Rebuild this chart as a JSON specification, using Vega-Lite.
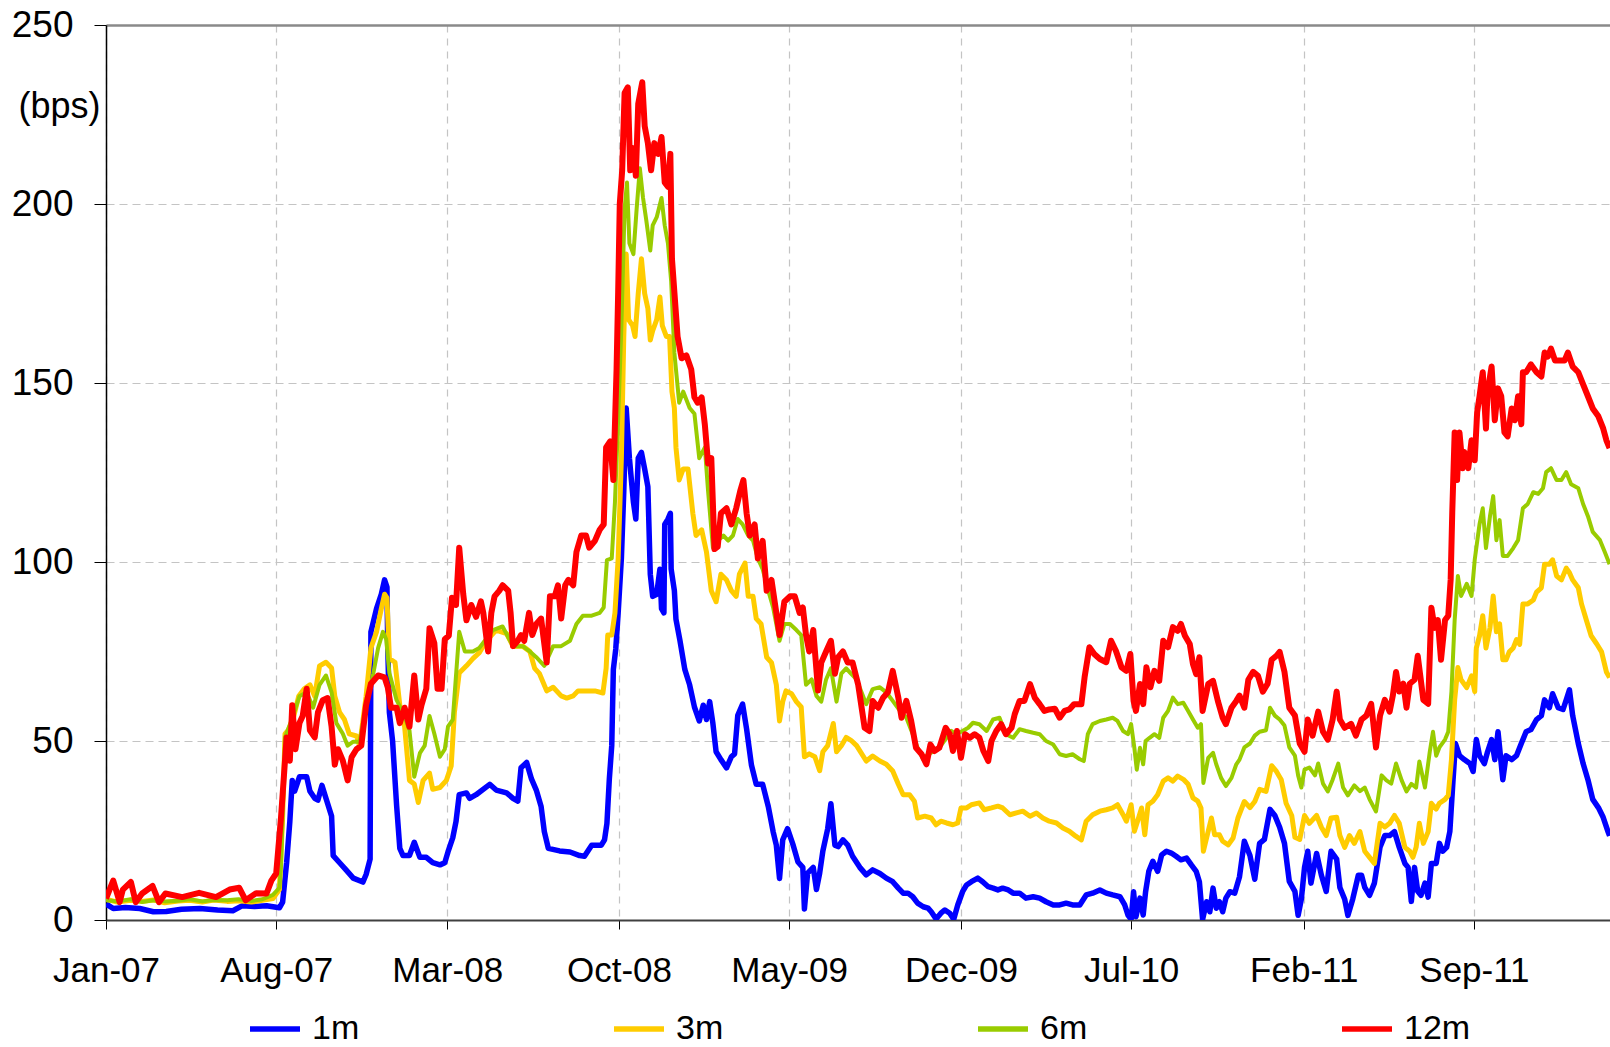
{
"$schema": "https://vega.github.io/schema/vega-lite/v6.json",
"width": 1504,
"height": 895,
"autosize": {"type": "none"},
"padding": {"left": 106, "top": 25, "right": 0, "bottom": 127},
"background": "white",
"config": {"font": "Liberation Sans", "view": {"stroke": null}},
"datasets": {
"m1": [
{"date":"2007-01-01","bps":4.5},{"date":"2007-01-10","bps":3.2},{"date":"2007-01-25","bps":3.5},{"date":"2007-02-12","bps":3.2},{"date":"2007-03-01","bps":2.3},{"date":"2007-03-17","bps":2.4},{"date":"2007-04-05","bps":3.0},{"date":"2007-04-28","bps":3.2},{"date":"2007-05-20","bps":2.8},{"date":"2007-06-08","bps":2.6},{"date":"2007-06-20","bps":4.0},{"date":"2007-07-05","bps":3.8},{"date":"2007-07-20","bps":4.0},{"date":"2007-07-28","bps":3.7},{"date":"2007-08-05","bps":3.4},{"date":"2007-08-09","bps":5},{"date":"2007-08-14","bps":16},{"date":"2007-08-18","bps":27.5},{"date":"2007-08-21","bps":39},{"date":"2007-08-24","bps":36},{"date":"2007-08-30","bps":40},{"date":"2007-09-08","bps":40},{"date":"2007-09-12","bps":36},{"date":"2007-09-18","bps":34},{"date":"2007-09-22","bps":33.5},{"date":"2007-09-27","bps":37.6},{"date":"2007-10-02","bps":34},{"date":"2007-10-09","bps":29},{"date":"2007-10-11","bps":18},{"date":"2007-10-19","bps":16},{"date":"2007-10-27","bps":14},{"date":"2007-11-05","bps":11.7},{"date":"2007-11-17","bps":10.6},{"date":"2007-11-21","bps":12.7},{"date":"2007-11-26","bps":17},{"date":"2007-11-27","bps":80.5},{"date":"2007-12-04","bps":87},{"date":"2007-12-10","bps":91},{"date":"2007-12-14","bps":95},{"date":"2007-12-17","bps":93},{"date":"2007-12-18","bps":76},{"date":"2007-12-20","bps":58},{"date":"2007-12-24","bps":50},{"date":"2007-12-29","bps":32},{"date":"2008-01-02","bps":20},{"date":"2008-01-06","bps":18},{"date":"2008-01-14","bps":18},{"date":"2008-01-20","bps":21.7},{"date":"2008-01-27","bps":17.5},{"date":"2008-02-04","bps":17.5},{"date":"2008-02-12","bps":16},{"date":"2008-02-21","bps":15.4},{"date":"2008-02-27","bps":16},{"date":"2008-03-02","bps":19},{"date":"2008-03-08","bps":23},{"date":"2008-03-12","bps":27.5},{"date":"2008-03-16","bps":35},{"date":"2008-03-25","bps":35.5},{"date":"2008-03-29","bps":34},{"date":"2008-04-06","bps":35},{"date":"2008-04-23","bps":37.9},{"date":"2008-05-01","bps":36.3},{"date":"2008-05-14","bps":35.5},{"date":"2008-05-22","bps":34},{"date":"2008-05-28","bps":33.2},{"date":"2008-06-01","bps":42.5},{"date":"2008-06-08","bps":44},{"date":"2008-06-14","bps":39.4},{"date":"2008-06-20","bps":36.3},{"date":"2008-06-26","bps":31.7},{"date":"2008-06-30","bps":24.7},{"date":"2008-07-05","bps":20},{"date":"2008-07-19","bps":19.3},{"date":"2008-08-01","bps":19},{"date":"2008-08-13","bps":18},{"date":"2008-08-19","bps":17.8},{"date":"2008-08-28","bps":20.9},{"date":"2008-09-09","bps":20.9},{"date":"2008-09-13","bps":22.4},{"date":"2008-09-16","bps":27},{"date":"2008-09-19","bps":39.4},{"date":"2008-09-22","bps":48.7},{"date":"2008-09-24","bps":70},{"date":"2008-09-27","bps":75.7},{"date":"2008-09-30","bps":85.8},{"date":"2008-10-04","bps":101},{"date":"2008-10-07","bps":119.8},{"date":"2008-10-10","bps":143},{"date":"2008-10-14","bps":129},{"date":"2008-10-19","bps":116.7},{"date":"2008-10-22","bps":112},{"date":"2008-10-25","bps":129},{"date":"2008-10-29","bps":130.6},{"date":"2008-11-02","bps":126},{"date":"2008-11-06","bps":121},{"date":"2008-11-09","bps":96.6},{"date":"2008-11-12","bps":90.4},{"date":"2008-11-17","bps":91},{"date":"2008-11-21","bps":98},{"date":"2008-11-23","bps":87},{"date":"2008-11-26","bps":85.8},{"date":"2008-11-27","bps":110.5},{"date":"2008-12-01","bps":112},{"date":"2008-12-04","bps":113.6},{"date":"2008-12-05","bps":98},{"date":"2008-12-09","bps":92},{"date":"2008-12-11","bps":84},{"date":"2008-12-16","bps":78},{"date":"2008-12-22","bps":70},{"date":"2008-12-28","bps":65.7},{"date":"2009-01-03","bps":59.5},{"date":"2009-01-09","bps":55.6},{"date":"2009-01-14","bps":60},{"date":"2009-01-18","bps":56},{"date":"2009-01-22","bps":61},{"date":"2009-01-26","bps":54.9},{"date":"2009-01-30","bps":47},{"date":"2009-02-05","bps":44.8},{"date":"2009-02-12","bps":42.5},{"date":"2009-02-18","bps":45.6},{"date":"2009-02-22","bps":46.4},{"date":"2009-02-26","bps":57.2},{"date":"2009-03-04","bps":60.3},{"date":"2009-03-09","bps":53.3},{"date":"2009-03-15","bps":43.3},{"date":"2009-03-21","bps":37.9},{"date":"2009-03-29","bps":37.9},{"date":"2009-04-05","bps":31.7},{"date":"2009-04-11","bps":24.7},{"date":"2009-04-15","bps":20.9},{"date":"2009-04-19","bps":11.6},{"date":"2009-04-23","bps":22.4},{"date":"2009-04-29","bps":25.5},{"date":"2009-05-06","bps":20.9},{"date":"2009-05-12","bps":16.2},{"date":"2009-05-18","bps":14.7},{"date":"2009-05-20","bps":3.1},{"date":"2009-05-24","bps":13.1},{"date":"2009-05-31","bps":14.7},{"date":"2009-06-04","bps":8.5},{"date":"2009-06-08","bps":13.1},{"date":"2009-06-12","bps":19.3},{"date":"2009-06-18","bps":25.5},{"date":"2009-06-22","bps":32.5},{"date":"2009-06-27","bps":20.9},{"date":"2009-07-01","bps":20.5},{"date":"2009-07-07","bps":22.4},{"date":"2009-07-13","bps":20.9},{"date":"2009-07-19","bps":17.8},{"date":"2009-07-28","bps":14.7},{"date":"2009-08-05","bps":12.6},{"date":"2009-08-13","bps":14},{"date":"2009-08-22","bps":13},{"date":"2009-08-30","bps":11.7},{"date":"2009-09-07","bps":10.7},{"date":"2009-09-14","bps":8.9},{"date":"2009-09-20","bps":7.5},{"date":"2009-09-26","bps":7.5},{"date":"2009-10-02","bps":6.5},{"date":"2009-10-08","bps":4.7},{"date":"2009-10-15","bps":3.7},{"date":"2009-10-21","bps":3.3},{"date":"2009-10-25","bps":2.3},{"date":"2009-10-31","bps":0.3},{"date":"2009-11-06","bps":1.9},{"date":"2009-11-11","bps":2.8},{"date":"2009-11-17","bps":1.9},{"date":"2009-11-22","bps":0.2},{"date":"2009-11-27","bps":4.2},{"date":"2009-12-03","bps":7.9},{"date":"2009-12-08","bps":9.8},{"date":"2009-12-14","bps":10.7},{"date":"2009-12-22","bps":11.7},{"date":"2009-12-28","bps":10.7},{"date":"2010-01-04","bps":9.3},{"date":"2010-01-10","bps":8.9},{"date":"2010-01-16","bps":8.4},{"date":"2010-01-22","bps":8.9},{"date":"2010-01-29","bps":8.4},{"date":"2010-02-04","bps":7.5},{"date":"2010-02-12","bps":7.5},{"date":"2010-02-20","bps":6.1},{"date":"2010-03-01","bps":6.5},{"date":"2010-03-09","bps":6.1},{"date":"2010-03-17","bps":5.1},{"date":"2010-03-26","bps":4.2},{"date":"2010-04-03","bps":4.2},{"date":"2010-04-11","bps":4.7},{"date":"2010-04-19","bps":4.2},{"date":"2010-04-28","bps":4.2},{"date":"2010-05-06","bps":7},{"date":"2010-05-14","bps":7.5},{"date":"2010-05-23","bps":8.4},{"date":"2010-05-31","bps":7.5},{"date":"2010-06-08","bps":7},{"date":"2010-06-17","bps":6.5},{"date":"2010-06-23","bps":4.2},{"date":"2010-06-27","bps":1.4},{"date":"2010-07-01","bps":0.2},{"date":"2010-07-04","bps":7.9},{"date":"2010-07-07","bps":0.9},{"date":"2010-07-12","bps":6.1},{"date":"2010-07-16","bps":1.4},{"date":"2010-07-19","bps":7.9},{"date":"2010-07-23","bps":13.6},{"date":"2010-07-28","bps":16.4},{"date":"2010-08-03","bps":13.6},{"date":"2010-08-08","bps":18.2},{"date":"2010-08-14","bps":19.2},{"date":"2010-08-20","bps":18.7},{"date":"2010-08-26","bps":17.8},{"date":"2010-09-01","bps":16.8},{"date":"2010-09-08","bps":17.3},{"date":"2010-09-14","bps":15.4},{"date":"2010-09-20","bps":13.6},{"date":"2010-09-24","bps":10.7},{"date":"2010-09-28","bps":0.2},{"date":"2010-10-03","bps":5.1},{"date":"2010-10-07","bps":2.3},{"date":"2010-10-11","bps":8.9},{"date":"2010-10-15","bps":3.3},{"date":"2010-10-19","bps":5.1},{"date":"2010-10-23","bps":2.3},{"date":"2010-10-27","bps":6.1},{"date":"2010-11-01","bps":7.9},{"date":"2010-11-07","bps":7.5},{"date":"2010-11-13","bps":12.1},{"date":"2010-11-19","bps":22},{"date":"2010-11-26","bps":18},{"date":"2010-12-02","bps":11.4},{"date":"2010-12-08","bps":21.4},{"date":"2010-12-14","bps":22.5},{"date":"2010-12-21","bps":30.9},{"date":"2010-12-27","bps":29.2},{"date":"2011-01-02","bps":25.9},{"date":"2011-01-08","bps":21.4},{"date":"2011-01-14","bps":10.8},{"date":"2011-01-21","bps":8},{"date":"2011-01-25","bps":1.3},{"date":"2011-01-29","bps":5.8},{"date":"2011-02-02","bps":14.7},{"date":"2011-02-06","bps":19.2},{"date":"2011-02-10","bps":10.3},{"date":"2011-02-17","bps":18.6},{"date":"2011-02-23","bps":12.5},{"date":"2011-03-01","bps":8},{"date":"2011-03-07","bps":19.2},{"date":"2011-03-14","bps":17},{"date":"2011-03-18","bps":9.1},{"date":"2011-03-24","bps":5.8},{"date":"2011-03-28","bps":1.3},{"date":"2011-04-03","bps":5.8},{"date":"2011-04-10","bps":12.5},{"date":"2011-04-14","bps":12.5},{"date":"2011-04-18","bps":9.1},{"date":"2011-04-24","bps":6.9},{"date":"2011-04-30","bps":10.3},{"date":"2011-05-07","bps":20.3},{"date":"2011-05-13","bps":23.6},{"date":"2011-05-19","bps":23.6},{"date":"2011-05-25","bps":24.7},{"date":"2011-05-31","bps":20.3},{"date":"2011-06-07","bps":15.8},{"date":"2011-06-11","bps":14.7},{"date":"2011-06-15","bps":5.2},{"date":"2011-06-19","bps":14.7},{"date":"2011-06-23","bps":8},{"date":"2011-06-27","bps":6.9},{"date":"2011-07-02","bps":10.3},{"date":"2011-07-06","bps":6.4},{"date":"2011-07-10","bps":15.8},{"date":"2011-07-16","bps":15.8},{"date":"2011-07-20","bps":21.4},{"date":"2011-07-24","bps":19.2},{"date":"2011-07-29","bps":20.3},{"date":"2011-08-02","bps":24.7},{"date":"2011-08-06","bps":39.2},{"date":"2011-08-09","bps":49.3},{"date":"2011-08-14","bps":45.9},{"date":"2011-08-20","bps":44.8},{"date":"2011-08-27","bps":43.7},{"date":"2011-08-31","bps":41.5},{"date":"2011-09-04","bps":50.4},{"date":"2011-09-08","bps":45.9},{"date":"2011-09-14","bps":43.7},{"date":"2011-09-18","bps":47},{"date":"2011-09-23","bps":50.4},{"date":"2011-09-27","bps":44.8},{"date":"2011-10-01","bps":52.6},{"date":"2011-10-07","bps":39.2},{"date":"2011-10-11","bps":45.9},{"date":"2011-10-18","bps":44.8},{"date":"2011-10-24","bps":45.9},{"date":"2011-10-30","bps":49.3},{"date":"2011-11-05","bps":52.6},{"date":"2011-11-11","bps":53.2},{"date":"2011-11-18","bps":56},{"date":"2011-11-24","bps":57.1},{"date":"2011-11-28","bps":61.5},{"date":"2011-12-04","bps":59.3},{"date":"2011-12-08","bps":63.2},{"date":"2011-12-15","bps":59.3},{"date":"2011-12-21","bps":58.8},{"date":"2011-12-25","bps":61.5},{"date":"2011-12-29","bps":64.3},{"date":"2012-01-02","bps":57.1},{"date":"2012-01-09","bps":49.3},{"date":"2012-01-15","bps":43.7},{"date":"2012-01-21","bps":39.2},{"date":"2012-01-27","bps":33.7},{"date":"2012-02-03","bps":31.4},{"date":"2012-02-09","bps":28.7},{"date":"2012-02-15","bps":24.7},{"date":"2012-02-17","bps":23.5}
],
"m3": [
{"date":"2007-01-01","bps":5.8},{"date":"2007-01-15","bps":5.0},{"date":"2007-02-01","bps":5.5},{"date":"2007-02-15","bps":5.2},{"date":"2007-03-01","bps":5.6},{"date":"2007-03-15","bps":4.8},{"date":"2007-04-01","bps":5.3},{"date":"2007-04-15","bps":5.5},{"date":"2007-05-01","bps":5.0},{"date":"2007-05-15","bps":5.6},{"date":"2007-06-01","bps":5.2},{"date":"2007-06-15","bps":5.4},{"date":"2007-07-01","bps":5.0},{"date":"2007-07-15","bps":5.5},{"date":"2007-07-28","bps":6.0},{"date":"2007-08-05","bps":8.5},{"date":"2007-08-09","bps":28.6},{"date":"2007-08-12","bps":52},{"date":"2007-08-16","bps":53},{"date":"2007-08-22","bps":56},{"date":"2007-08-29","bps":62.5},{"date":"2007-09-05","bps":64.6},{"date":"2007-09-12","bps":65.7},{"date":"2007-09-18","bps":62.5},{"date":"2007-09-24","bps":71},{"date":"2007-10-02","bps":72},{"date":"2007-10-09","bps":70.4},{"date":"2007-10-13","bps":62.5},{"date":"2007-10-19","bps":58},{"date":"2007-10-25","bps":56},{"date":"2007-10-31","bps":52},{"date":"2007-11-09","bps":51.4},{"date":"2007-11-13","bps":48.7},{"date":"2007-11-21","bps":62.5},{"date":"2007-11-27","bps":76},{"date":"2007-12-04","bps":80.5},{"date":"2007-12-10","bps":87},{"date":"2007-12-14","bps":91},{"date":"2007-12-17","bps":90},{"date":"2007-12-20","bps":73},{"date":"2007-12-27","bps":72},{"date":"2008-01-02","bps":60},{"date":"2008-01-08","bps":54},{"date":"2008-01-14","bps":39},{"date":"2008-01-20","bps":38},{"date":"2008-01-25","bps":32.8},{"date":"2008-01-31","bps":39},{"date":"2008-02-08","bps":41},{"date":"2008-02-12","bps":36.5},{"date":"2008-02-21","bps":37},{"date":"2008-02-29","bps":39},{"date":"2008-03-06","bps":43},{"date":"2008-03-10","bps":58},{"date":"2008-03-16","bps":69},{"date":"2008-03-25","bps":71},{"date":"2008-04-02","bps":73},{"date":"2008-04-10","bps":74.7},{"date":"2008-04-19","bps":78},{"date":"2008-05-01","bps":81},{"date":"2008-05-14","bps":80},{"date":"2008-05-22","bps":76.5},{"date":"2008-06-03","bps":76.5},{"date":"2008-06-12","bps":75},{"date":"2008-06-18","bps":70.3},{"date":"2008-06-24","bps":68.8},{"date":"2008-07-03","bps":64},{"date":"2008-07-11","bps":65},{"date":"2008-07-21","bps":62.6},{"date":"2008-07-28","bps":62},{"date":"2008-08-05","bps":62.6},{"date":"2008-08-11","bps":64},{"date":"2008-08-21","bps":64},{"date":"2008-09-01","bps":64},{"date":"2008-09-11","bps":63.4},{"date":"2008-09-15","bps":70.3},{"date":"2008-09-17","bps":79.6},{"date":"2008-09-22","bps":79.6},{"date":"2008-09-26","bps":85.8},{"date":"2008-09-30","bps":101},{"date":"2008-10-04","bps":129},{"date":"2008-10-07","bps":163},{"date":"2008-10-10","bps":186},{"date":"2008-10-13","bps":167.7},{"date":"2008-10-18","bps":166},{"date":"2008-10-21","bps":163},{"date":"2008-10-25","bps":175},{"date":"2008-10-29","bps":184.7},{"date":"2008-11-02","bps":175},{"date":"2008-11-06","bps":170.8},{"date":"2008-11-09","bps":162},{"date":"2008-11-12","bps":164.6},{"date":"2008-11-17","bps":167.7},{"date":"2008-11-21","bps":174},{"date":"2008-11-24","bps":166},{"date":"2008-11-29","bps":163},{"date":"2008-12-03","bps":163},{"date":"2008-12-06","bps":147.6},{"date":"2008-12-09","bps":143},{"date":"2008-12-11","bps":132},{"date":"2008-12-15","bps":122.9},{"date":"2008-12-20","bps":126},{"date":"2008-12-26","bps":126},{"date":"2009-01-01","bps":113.6},{"date":"2009-01-05","bps":107.4},{"date":"2009-01-12","bps":109},{"date":"2009-01-18","bps":102.8},{"date":"2009-01-24","bps":92},{"date":"2009-01-30","bps":88.9},{"date":"2009-02-05","bps":96.6},{"date":"2009-02-12","bps":95},{"date":"2009-02-18","bps":92},{"date":"2009-02-24","bps":90.4},{"date":"2009-02-28","bps":96.6},{"date":"2009-03-07","bps":99.7},{"date":"2009-03-11","bps":90.4},{"date":"2009-03-17","bps":90.4},{"date":"2009-03-21","bps":84.2},{"date":"2009-03-27","bps":82.7},{"date":"2009-04-03","bps":73.4},{"date":"2009-04-09","bps":71.9},{"date":"2009-04-15","bps":65.7},{"date":"2009-04-19","bps":55.6},{"date":"2009-04-23","bps":61},{"date":"2009-04-27","bps":64},{"date":"2009-05-04","bps":63.2},{"date":"2009-05-10","bps":61},{"date":"2009-05-16","bps":59.5},{"date":"2009-05-20","bps":45.6},{"date":"2009-05-26","bps":46.4},{"date":"2009-06-02","bps":45.6},{"date":"2009-06-08","bps":41.7},{"date":"2009-06-12","bps":47},{"date":"2009-06-18","bps":48.7},{"date":"2009-06-25","bps":54.9},{"date":"2009-06-29","bps":47},{"date":"2009-07-05","bps":48.7},{"date":"2009-07-11","bps":51},{"date":"2009-07-17","bps":50.2},{"date":"2009-07-24","bps":48.7},{"date":"2009-08-05","bps":44.4},{"date":"2009-08-13","bps":45.8},{"date":"2009-08-22","bps":44.4},{"date":"2009-08-30","bps":43.5},{"date":"2009-09-07","bps":41.6},{"date":"2009-09-14","bps":37.9},{"date":"2009-09-20","bps":35},{"date":"2009-09-28","bps":35},{"date":"2009-10-04","bps":33.2},{"date":"2009-10-08","bps":28.5},{"date":"2009-10-17","bps":29},{"date":"2009-10-25","bps":28.5},{"date":"2009-10-31","bps":26.6},{"date":"2009-11-06","bps":27.6},{"date":"2009-11-13","bps":27.1},{"date":"2009-11-21","bps":26.6},{"date":"2009-11-27","bps":27.1},{"date":"2009-12-01","bps":31.3},{"date":"2009-12-08","bps":31.3},{"date":"2009-12-14","bps":32.2},{"date":"2009-12-24","bps":32.7},{"date":"2009-12-30","bps":30.8},{"date":"2010-01-08","bps":31.3},{"date":"2010-01-16","bps":31.8},{"date":"2010-01-22","bps":31.3},{"date":"2010-01-31","bps":29.4},{"date":"2010-02-08","bps":29.9},{"date":"2010-02-16","bps":30.4},{"date":"2010-02-25","bps":29},{"date":"2010-03-05","bps":29.9},{"date":"2010-03-13","bps":28.5},{"date":"2010-03-21","bps":27.6},{"date":"2010-03-30","bps":27.1},{"date":"2010-04-07","bps":25.7},{"date":"2010-04-15","bps":24.8},{"date":"2010-04-23","bps":23.4},{"date":"2010-04-30","bps":22.4},{"date":"2010-05-06","bps":27.6},{"date":"2010-05-14","bps":29.4},{"date":"2010-05-23","bps":30.4},{"date":"2010-05-31","bps":30.8},{"date":"2010-06-08","bps":31.3},{"date":"2010-06-14","bps":32.2},{"date":"2010-06-21","bps":29.4},{"date":"2010-06-25","bps":27.6},{"date":"2010-07-01","bps":32.2},{"date":"2010-07-05","bps":24.8},{"date":"2010-07-09","bps":27.6},{"date":"2010-07-14","bps":31.3},{"date":"2010-07-18","bps":23.8},{"date":"2010-07-22","bps":32.2},{"date":"2010-07-28","bps":33.2},{"date":"2010-08-03","bps":35},{"date":"2010-08-10","bps":38.8},{"date":"2010-08-16","bps":39.7},{"date":"2010-08-22","bps":38.8},{"date":"2010-08-28","bps":40.2},{"date":"2010-09-04","bps":39.3},{"date":"2010-09-10","bps":37.9},{"date":"2010-09-16","bps":34.1},{"date":"2010-09-22","bps":33.2},{"date":"2010-09-26","bps":31.3},{"date":"2010-09-29","bps":19.2},{"date":"2010-10-05","bps":24.8},{"date":"2010-10-09","bps":28.5},{"date":"2010-10-13","bps":23.8},{"date":"2010-10-19","bps":23.8},{"date":"2010-10-23","bps":22},{"date":"2010-10-30","bps":21},{"date":"2010-11-05","bps":22.9},{"date":"2010-11-11","bps":28.5},{"date":"2010-11-19","bps":33.1},{"date":"2010-11-26","bps":31.4},{"date":"2010-12-02","bps":33.1},{"date":"2010-12-08","bps":36.5},{"date":"2010-12-16","bps":35.9},{"date":"2010-12-23","bps":43.1},{"date":"2010-12-29","bps":41.5},{"date":"2011-01-04","bps":39.2},{"date":"2011-01-10","bps":32.6},{"date":"2011-01-17","bps":29.2},{"date":"2011-01-21","bps":23.1},{"date":"2011-01-27","bps":22.5},{"date":"2011-02-02","bps":29.2},{"date":"2011-02-08","bps":27},{"date":"2011-02-17","bps":29.2},{"date":"2011-02-23","bps":25.9},{"date":"2011-03-01","bps":23.6},{"date":"2011-03-07","bps":28.5},{"date":"2011-03-14","bps":28.7},{"date":"2011-03-18","bps":23.6},{"date":"2011-03-24","bps":20.3},{"date":"2011-03-30","bps":23.6},{"date":"2011-04-05","bps":21.4},{"date":"2011-04-12","bps":24.7},{"date":"2011-04-18","bps":19.2},{"date":"2011-04-24","bps":17.5},{"date":"2011-04-30","bps":15.8},{"date":"2011-05-07","bps":27},{"date":"2011-05-13","bps":26},{"date":"2011-05-19","bps":27},{"date":"2011-05-25","bps":29.2},{"date":"2011-05-31","bps":27},{"date":"2011-06-07","bps":20.3},{"date":"2011-06-13","bps":19.2},{"date":"2011-06-17","bps":17.5},{"date":"2011-06-21","bps":20.3},{"date":"2011-06-25","bps":27},{"date":"2011-06-30","bps":21.4},{"date":"2011-07-06","bps":24.7},{"date":"2011-07-10","bps":32.6},{"date":"2011-07-16","bps":31},{"date":"2011-07-20","bps":32.6},{"date":"2011-07-27","bps":33.7},{"date":"2011-07-31","bps":34.8},{"date":"2011-08-04","bps":44.8},{"date":"2011-08-08","bps":61.5},{"date":"2011-08-12","bps":70.5},{"date":"2011-08-16","bps":67.1},{"date":"2011-08-23","bps":64.9},{"date":"2011-08-29","bps":68.2},{"date":"2011-09-02","bps":63.8},{"date":"2011-09-04","bps":76},{"date":"2011-09-08","bps":79.4},{"date":"2011-09-12","bps":85},{"date":"2011-09-16","bps":76},{"date":"2011-09-21","bps":81.6},{"date":"2011-09-25","bps":90.5},{"date":"2011-09-29","bps":80.5},{"date":"2011-10-03","bps":82.7},{"date":"2011-10-07","bps":72.7},{"date":"2011-10-11","bps":72.7},{"date":"2011-10-15","bps":74.9},{"date":"2011-10-20","bps":76},{"date":"2011-10-24","bps":78.3},{"date":"2011-10-28","bps":77},{"date":"2011-11-01","bps":88.3},{"date":"2011-11-07","bps":88.3},{"date":"2011-11-14","bps":89.4},{"date":"2011-11-18","bps":91.6},{"date":"2011-11-24","bps":92.8},{"date":"2011-11-28","bps":99.4},{"date":"2011-12-04","bps":99.4},{"date":"2011-12-08","bps":100.6},{"date":"2011-12-13","bps":96.1},{"date":"2011-12-19","bps":95},{"date":"2011-12-25","bps":98.3},{"date":"2011-12-29","bps":97},{"date":"2012-01-02","bps":95},{"date":"2012-01-09","bps":92.8},{"date":"2012-01-13","bps":88.3},{"date":"2012-01-19","bps":83.8},{"date":"2012-01-25","bps":79.4},{"date":"2012-02-01","bps":77.1},{"date":"2012-02-07","bps":74.9},{"date":"2012-02-13","bps":69.3},{"date":"2012-02-17","bps":67.7}
],
"m6": [
{"date":"2007-01-01","bps":5.5},{"date":"2007-01-15","bps":5.2},{"date":"2007-02-01","bps":5.8},{"date":"2007-02-15","bps":5.0},{"date":"2007-03-01","bps":5.5},{"date":"2007-03-15","bps":5.2},{"date":"2007-04-01","bps":5.4},{"date":"2007-04-15","bps":5.8},{"date":"2007-05-01","bps":5.2},{"date":"2007-05-15","bps":5.6},{"date":"2007-06-01","bps":5.5},{"date":"2007-06-15","bps":5.8},{"date":"2007-07-01","bps":5.3},{"date":"2007-07-15","bps":5.8},{"date":"2007-07-28","bps":7.0},{"date":"2007-08-05","bps":9},{"date":"2007-08-07","bps":15},{"date":"2007-08-12","bps":51},{"date":"2007-08-22","bps":57},{"date":"2007-08-30","bps":62.5},{"date":"2007-09-08","bps":63.6},{"date":"2007-09-16","bps":59.3},{"date":"2007-09-24","bps":65.7},{"date":"2007-10-02","bps":68.3},{"date":"2007-10-09","bps":63.6},{"date":"2007-10-15","bps":55},{"date":"2007-10-23","bps":52},{"date":"2007-10-29","bps":48.7},{"date":"2007-11-05","bps":49.8},{"date":"2007-11-13","bps":49.8},{"date":"2007-11-21","bps":60},{"date":"2007-11-30","bps":68.9},{"date":"2007-12-06","bps":76},{"date":"2007-12-12","bps":80.5},{"date":"2007-12-16","bps":78.4},{"date":"2007-12-20","bps":69},{"date":"2007-12-29","bps":61.4},{"date":"2008-01-06","bps":58},{"date":"2008-01-14","bps":53},{"date":"2008-01-20","bps":40},{"date":"2008-01-27","bps":46.6},{"date":"2008-02-02","bps":48.7},{"date":"2008-02-08","bps":57},{"date":"2008-02-14","bps":52},{"date":"2008-02-21","bps":45.6},{"date":"2008-02-27","bps":47.7},{"date":"2008-03-02","bps":54},{"date":"2008-03-08","bps":56},{"date":"2008-03-16","bps":80.5},{"date":"2008-03-23","bps":75},{"date":"2008-04-02","bps":75},{"date":"2008-04-10","bps":76},{"date":"2008-04-27","bps":81},{"date":"2008-05-09","bps":82},{"date":"2008-05-22","bps":76.5},{"date":"2008-06-03","bps":76.5},{"date":"2008-06-12","bps":75},{"date":"2008-06-20","bps":73.4},{"date":"2008-06-30","bps":71},{"date":"2008-07-11","bps":76.5},{"date":"2008-07-21","bps":76.5},{"date":"2008-08-01","bps":78},{"date":"2008-08-09","bps":82.7},{"date":"2008-08-17","bps":85},{"date":"2008-08-28","bps":85},{"date":"2008-09-07","bps":85.8},{"date":"2008-09-12","bps":87.3},{"date":"2008-09-16","bps":100.5},{"date":"2008-09-22","bps":101},{"date":"2008-09-26","bps":116.7},{"date":"2008-09-30","bps":140},{"date":"2008-10-04","bps":166},{"date":"2008-10-08","bps":198.6},{"date":"2008-10-11","bps":206},{"date":"2008-10-14","bps":189},{"date":"2008-10-19","bps":186},{"date":"2008-10-23","bps":198.6},{"date":"2008-10-27","bps":210},{"date":"2008-10-31","bps":201.7},{"date":"2008-11-04","bps":195.5},{"date":"2008-11-09","bps":187},{"date":"2008-11-12","bps":194},{"date":"2008-11-17","bps":196.3},{"date":"2008-11-23","bps":201.7},{"date":"2008-11-27","bps":194},{"date":"2008-12-01","bps":189},{"date":"2008-12-05","bps":178.5},{"date":"2008-12-09","bps":158.4},{"date":"2008-12-15","bps":144.5},{"date":"2008-12-20","bps":147.6},{"date":"2008-12-28","bps":143},{"date":"2009-01-03","bps":141.4},{"date":"2009-01-09","bps":129},{"date":"2009-01-16","bps":132},{"date":"2009-01-20","bps":119.8},{"date":"2009-01-26","bps":104},{"date":"2009-02-01","bps":105.9},{"date":"2009-02-08","bps":107.4},{"date":"2009-02-14","bps":106},{"date":"2009-02-20","bps":107.4},{"date":"2009-02-26","bps":112},{"date":"2009-03-04","bps":110.5},{"date":"2009-03-11","bps":107.4},{"date":"2009-03-17","bps":106},{"date":"2009-03-23","bps":101},{"date":"2009-03-29","bps":98},{"date":"2009-04-05","bps":92},{"date":"2009-04-11","bps":87.3},{"date":"2009-04-19","bps":78},{"date":"2009-04-25","bps":82.7},{"date":"2009-05-02","bps":82.7},{"date":"2009-05-10","bps":81},{"date":"2009-05-16","bps":79.6},{"date":"2009-05-22","bps":65.7},{"date":"2009-05-29","bps":67.2},{"date":"2009-06-04","bps":62.6},{"date":"2009-06-10","bps":61},{"date":"2009-06-16","bps":67.2},{"date":"2009-06-22","bps":70.3},{"date":"2009-06-29","bps":61},{"date":"2009-07-05","bps":68.8},{"date":"2009-07-11","bps":70.3},{"date":"2009-07-17","bps":68.8},{"date":"2009-07-24","bps":67.2},{"date":"2009-08-05","bps":60.3},{"date":"2009-08-13","bps":64.5},{"date":"2009-08-22","bps":65},{"date":"2009-08-30","bps":63.6},{"date":"2009-09-07","bps":61.2},{"date":"2009-09-16","bps":58.4},{"date":"2009-09-24","bps":56.5},{"date":"2009-10-02","bps":51.9},{"date":"2009-10-08","bps":48.1},{"date":"2009-10-15","bps":44.9},{"date":"2009-10-21","bps":46.3},{"date":"2009-10-29","bps":47.2},{"date":"2009-11-04","bps":48.1},{"date":"2009-11-13","bps":50.9},{"date":"2009-11-19","bps":52.8},{"date":"2009-11-25","bps":51.9},{"date":"2009-12-03","bps":52.8},{"date":"2009-12-10","bps":53.7},{"date":"2009-12-16","bps":55.1},{"date":"2009-12-24","bps":54.7},{"date":"2010-01-02","bps":52.8},{"date":"2010-01-10","bps":56},{"date":"2010-01-18","bps":56.5},{"date":"2010-01-26","bps":51.9},{"date":"2010-02-04","bps":50.9},{"date":"2010-02-12","bps":53.3},{"date":"2010-02-20","bps":52.8},{"date":"2010-03-01","bps":52.3},{"date":"2010-03-09","bps":51.9},{"date":"2010-03-17","bps":50},{"date":"2010-03-26","bps":49},{"date":"2010-04-03","bps":46.3},{"date":"2010-04-11","bps":45.8},{"date":"2010-04-19","bps":46.3},{"date":"2010-04-28","bps":44.9},{"date":"2010-05-03","bps":44.4},{"date":"2010-05-08","bps":51.9},{"date":"2010-05-14","bps":54.7},{"date":"2010-05-23","bps":55.6},{"date":"2010-05-31","bps":56},{"date":"2010-06-08","bps":56.5},{"date":"2010-06-14","bps":55.6},{"date":"2010-06-21","bps":52.8},{"date":"2010-06-27","bps":51.9},{"date":"2010-07-01","bps":54.7},{"date":"2010-07-05","bps":48.1},{"date":"2010-07-08","bps":42},{"date":"2010-07-12","bps":48.1},{"date":"2010-07-16","bps":43.5},{"date":"2010-07-19","bps":50},{"date":"2010-07-24","bps":50.9},{"date":"2010-07-30","bps":51.9},{"date":"2010-08-05","bps":50.9},{"date":"2010-08-10","bps":56.5},{"date":"2010-08-16","bps":58.4},{"date":"2010-08-22","bps":62.1},{"date":"2010-08-28","bps":60.3},{"date":"2010-09-04","bps":60.7},{"date":"2010-09-10","bps":58.4},{"date":"2010-09-16","bps":56},{"date":"2010-09-22","bps":53.7},{"date":"2010-09-26","bps":54.7},{"date":"2010-09-29","bps":38.3},{"date":"2010-10-05","bps":45.3},{"date":"2010-10-11","bps":46.7},{"date":"2010-10-15","bps":43.5},{"date":"2010-10-21","bps":39.7},{"date":"2010-10-27","bps":37.4},{"date":"2010-11-03","bps":39.7},{"date":"2010-11-09","bps":43.5},{"date":"2010-11-13","bps":44.8},{"date":"2010-11-19","bps":48.2},{"date":"2010-11-26","bps":49.3},{"date":"2010-12-02","bps":51.5},{"date":"2010-12-08","bps":52.6},{"date":"2010-12-16","bps":53},{"date":"2010-12-21","bps":59.3},{"date":"2010-12-27","bps":57.1},{"date":"2011-01-02","bps":56},{"date":"2011-01-08","bps":54.3},{"date":"2011-01-14","bps":48.2},{"date":"2011-01-21","bps":45.9},{"date":"2011-01-25","bps":40.4},{"date":"2011-01-29","bps":37},{"date":"2011-02-02","bps":42},{"date":"2011-02-08","bps":42.6},{"date":"2011-02-15","bps":40.4},{"date":"2011-02-19","bps":43.7},{"date":"2011-02-25","bps":38.1},{"date":"2011-03-03","bps":35.9},{"date":"2011-03-09","bps":39.2},{"date":"2011-03-16","bps":43.7},{"date":"2011-03-22","bps":37},{"date":"2011-03-28","bps":34.8},{"date":"2011-04-05","bps":37.6},{"date":"2011-04-12","bps":36},{"date":"2011-04-18","bps":37},{"date":"2011-04-24","bps":33.7},{"date":"2011-05-02","bps":30.3},{"date":"2011-05-09","bps":40.4},{"date":"2011-05-15","bps":39},{"date":"2011-05-21","bps":38.1},{"date":"2011-05-27","bps":43.7},{"date":"2011-06-03","bps":39},{"date":"2011-06-09","bps":35.9},{"date":"2011-06-15","bps":38},{"date":"2011-06-21","bps":37},{"date":"2011-06-25","bps":44.3},{"date":"2011-07-02","bps":37},{"date":"2011-07-08","bps":47},{"date":"2011-07-12","bps":52.6},{"date":"2011-07-16","bps":45.9},{"date":"2011-07-20","bps":48.2},{"date":"2011-07-27","bps":50.4},{"date":"2011-07-31","bps":52.6},{"date":"2011-08-04","bps":63.8},{"date":"2011-08-08","bps":83.8},{"date":"2011-08-12","bps":96.1},{"date":"2011-08-16","bps":90.5},{"date":"2011-08-23","bps":93.9},{"date":"2011-08-29","bps":90.5},{"date":"2011-09-02","bps":100.6},{"date":"2011-09-08","bps":110.6},{"date":"2011-09-12","bps":115},{"date":"2011-09-16","bps":103.9},{"date":"2011-09-21","bps":112.8},{"date":"2011-09-25","bps":118.4},{"date":"2011-09-29","bps":106.1},{"date":"2011-10-03","bps":111.7},{"date":"2011-10-07","bps":101.7},{"date":"2011-10-13","bps":101.7},{"date":"2011-10-20","bps":103.9},{"date":"2011-10-26","bps":106.1},{"date":"2011-11-01","bps":115},{"date":"2011-11-07","bps":116.2},{"date":"2011-11-14","bps":119.5},{"date":"2011-11-20","bps":119},{"date":"2011-11-26","bps":120.6},{"date":"2011-11-30","bps":125.1},{"date":"2011-12-06","bps":126.2},{"date":"2011-12-13","bps":122.9},{"date":"2011-12-19","bps":122.9},{"date":"2011-12-25","bps":125.1},{"date":"2011-12-31","bps":121.7},{"date":"2012-01-09","bps":120.6},{"date":"2012-01-15","bps":116.2},{"date":"2012-01-21","bps":112.8},{"date":"2012-01-27","bps":108.4},{"date":"2012-02-05","bps":106.1},{"date":"2012-02-11","bps":102.8},{"date":"2012-02-17","bps":99.4}
],
"m12": [
{"date":"2007-01-01","bps":6},{"date":"2007-01-10","bps":11},{"date":"2007-01-18","bps":5},{"date":"2007-01-22","bps":8.5},{"date":"2007-02-01","bps":10.6},{"date":"2007-02-07","bps":5},{"date":"2007-02-15","bps":7.4},{"date":"2007-02-28","bps":9.5},{"date":"2007-03-08","bps":5},{"date":"2007-03-16","bps":7.4},{"date":"2007-04-06","bps":6.4},{"date":"2007-04-27","bps":7.6},{"date":"2007-05-18","bps":6.4},{"date":"2007-06-04","bps":8.5},{"date":"2007-06-16","bps":9},{"date":"2007-06-24","bps":5.5},{"date":"2007-07-07","bps":7.5},{"date":"2007-07-20","bps":7.4},{"date":"2007-07-26","bps":11},{"date":"2007-08-01","bps":13},{"date":"2007-08-07","bps":28.6},{"date":"2007-08-14","bps":51},{"date":"2007-08-18","bps":44.5},{"date":"2007-08-21","bps":60},{"date":"2007-08-25","bps":47.7},{"date":"2007-08-30","bps":55},{"date":"2007-09-03","bps":57},{"date":"2007-09-08","bps":64.6},{"date":"2007-09-12","bps":53},{"date":"2007-09-18","bps":51},{"date":"2007-09-22","bps":58},{"date":"2007-09-28","bps":61.4},{"date":"2007-10-04","bps":62},{"date":"2007-10-09","bps":54},{"date":"2007-10-13","bps":43.4},{"date":"2007-10-17","bps":47.7},{"date":"2007-10-23","bps":44.5},{"date":"2007-10-29","bps":39},{"date":"2007-11-03","bps":45.5},{"date":"2007-11-09","bps":47.7},{"date":"2007-11-15","bps":48.7},{"date":"2007-11-21","bps":60},{"date":"2007-11-27","bps":66},{"date":"2007-12-06","bps":68.3},{"date":"2007-12-14","bps":67.8},{"date":"2007-12-18","bps":65},{"date":"2007-12-22","bps":59.3},{"date":"2007-12-29","bps":59.3},{"date":"2008-01-02","bps":55},{"date":"2008-01-08","bps":59.3},{"date":"2008-01-14","bps":54},{"date":"2008-01-20","bps":68.3},{"date":"2008-01-25","bps":56},{"date":"2008-01-29","bps":60},{"date":"2008-02-04","bps":64.6},{"date":"2008-02-08","bps":81.5},{"date":"2008-02-14","bps":77.3},{"date":"2008-02-18","bps":64.6},{"date":"2008-02-23","bps":64.6},{"date":"2008-02-27","bps":78.4},{"date":"2008-03-03","bps":79.4},{"date":"2008-03-07","bps":90},{"date":"2008-03-12","bps":88},{"date":"2008-03-16","bps":104},{"date":"2008-03-21","bps":91},{"date":"2008-03-25","bps":83.7},{"date":"2008-03-31","bps":88},{"date":"2008-04-06","bps":84.7},{"date":"2008-04-12","bps":89},{"date":"2008-04-15","bps":85.8},{"date":"2008-04-21","bps":75},{"date":"2008-04-25","bps":85.8},{"date":"2008-04-29","bps":90.4},{"date":"2008-05-05","bps":92},{"date":"2008-05-09","bps":93.5},{"date":"2008-05-16","bps":92},{"date":"2008-05-19","bps":85.8},{"date":"2008-05-22","bps":76.5},{"date":"2008-05-28","bps":78},{"date":"2008-06-01","bps":79.6},{"date":"2008-06-05","bps":78},{"date":"2008-06-11","bps":85.8},{"date":"2008-06-15","bps":79.6},{"date":"2008-06-20","bps":82.7},{"date":"2008-06-26","bps":84.2},{"date":"2008-07-03","bps":71.9},{"date":"2008-07-07","bps":90.4},{"date":"2008-07-13","bps":90.4},{"date":"2008-07-17","bps":93.5},{"date":"2008-07-21","bps":84.2},{"date":"2008-07-26","bps":93.5},{"date":"2008-07-30","bps":95},{"date":"2008-08-05","bps":93.5},{"date":"2008-08-09","bps":102.8},{"date":"2008-08-15","bps":107.4},{"date":"2008-08-21","bps":107.4},{"date":"2008-08-25","bps":104},{"date":"2008-09-01","bps":105.9},{"date":"2008-09-07","bps":109},{"date":"2008-09-12","bps":110.5},{"date":"2008-09-15","bps":132},{"date":"2008-09-20","bps":133.7},{"date":"2008-09-24","bps":122.9},{"date":"2008-09-28","bps":153.8},{"date":"2008-09-30","bps":175.4},{"date":"2008-10-02","bps":200},{"date":"2008-10-05","bps":209.4},{"date":"2008-10-08","bps":231},{"date":"2008-10-12","bps":232.6},{"date":"2008-10-15","bps":209.4},{"date":"2008-10-19","bps":215.6},{"date":"2008-10-22","bps":207.9},{"date":"2008-10-25","bps":228},{"date":"2008-10-30","bps":234},{"date":"2008-11-02","bps":221.8},{"date":"2008-11-06","bps":217},{"date":"2008-11-10","bps":209.4},{"date":"2008-11-14","bps":217},{"date":"2008-11-19","bps":214},{"date":"2008-11-23","bps":218.7},{"date":"2008-11-27","bps":206},{"date":"2008-12-01","bps":204.8},{"date":"2008-12-04","bps":214},{"date":"2008-12-06","bps":184.7},{"date":"2008-12-09","bps":175.4},{"date":"2008-12-13","bps":163},{"date":"2008-12-18","bps":156.9},{"date":"2008-12-24","bps":157.7},{"date":"2008-12-30","bps":153.8},{"date":"2009-01-03","bps":146},{"date":"2009-01-07","bps":144.5},{"date":"2009-01-12","bps":146},{"date":"2009-01-16","bps":138.3},{"date":"2009-01-20","bps":127.5},{"date":"2009-01-24","bps":129},{"date":"2009-01-28","bps":103.6},{"date":"2009-02-01","bps":104.3},{"date":"2009-02-05","bps":113.6},{"date":"2009-02-12","bps":115},{"date":"2009-02-18","bps":110.5},{"date":"2009-02-24","bps":115},{"date":"2009-03-01","bps":119.8},{"date":"2009-03-05","bps":122.9},{"date":"2009-03-09","bps":113.6},{"date":"2009-03-13","bps":107.4},{"date":"2009-03-19","bps":110.5},{"date":"2009-03-23","bps":101},{"date":"2009-03-29","bps":105.9},{"date":"2009-04-03","bps":92},{"date":"2009-04-09","bps":95},{"date":"2009-04-15","bps":85.8},{"date":"2009-04-19","bps":79.6},{"date":"2009-04-25","bps":88.9},{"date":"2009-05-02","bps":90.4},{"date":"2009-05-08","bps":90.4},{"date":"2009-05-14","bps":85.8},{"date":"2009-05-18","bps":87.3},{"date":"2009-05-22","bps":79.6},{"date":"2009-05-26","bps":75},{"date":"2009-05-31","bps":81},{"date":"2009-06-06","bps":64.1},{"date":"2009-06-10","bps":71.9},{"date":"2009-06-16","bps":75},{"date":"2009-06-22","bps":78},{"date":"2009-06-27","bps":68.8},{"date":"2009-07-01","bps":73.4},{"date":"2009-07-07","bps":75},{"date":"2009-07-13","bps":71.9},{"date":"2009-07-19","bps":71.9},{"date":"2009-07-26","bps":65.7},{"date":"2009-08-03","bps":53.7},{"date":"2009-08-09","bps":52.8},{"date":"2009-08-13","bps":61.2},{"date":"2009-08-20","bps":59.3},{"date":"2009-08-26","bps":62.1},{"date":"2009-09-01","bps":63.6},{"date":"2009-09-07","bps":69.6},{"date":"2009-09-14","bps":62.1},{"date":"2009-09-18","bps":56.5},{"date":"2009-09-24","bps":61.2},{"date":"2009-09-30","bps":55.6},{"date":"2009-10-06","bps":48.1},{"date":"2009-10-13","bps":46.3},{"date":"2009-10-19","bps":43.5},{"date":"2009-10-24","bps":49},{"date":"2009-10-29","bps":47.2},{"date":"2009-11-04","bps":48.1},{"date":"2009-11-12","bps":53.7},{"date":"2009-11-17","bps":51.9},{"date":"2009-11-21","bps":47.2},{"date":"2009-11-26","bps":52.8},{"date":"2009-12-01","bps":45.3},{"date":"2009-12-06","bps":51.9},{"date":"2009-12-12","bps":50.9},{"date":"2009-12-18","bps":51.9},{"date":"2009-12-24","bps":50.9},{"date":"2009-12-29","bps":47.2},{"date":"2010-01-04","bps":44.4},{"date":"2010-01-08","bps":50},{"date":"2010-01-14","bps":52.8},{"date":"2010-01-20","bps":54.7},{"date":"2010-01-26","bps":51.9},{"date":"2010-02-02","bps":53.7},{"date":"2010-02-06","bps":57.5},{"date":"2010-02-12","bps":61.2},{"date":"2010-02-18","bps":61.2},{"date":"2010-02-25","bps":65.9},{"date":"2010-03-03","bps":62.1},{"date":"2010-03-09","bps":60.3},{"date":"2010-03-15","bps":58.4},{"date":"2010-03-21","bps":58.8},{"date":"2010-03-28","bps":59},{"date":"2010-04-03","bps":56.5},{"date":"2010-04-09","bps":58.4},{"date":"2010-04-15","bps":58.8},{"date":"2010-04-21","bps":60.3},{"date":"2010-04-30","bps":60.3},{"date":"2010-05-04","bps":67.8},{"date":"2010-05-10","bps":76.2},{"date":"2010-05-16","bps":74.3},{"date":"2010-05-23","bps":72.9},{"date":"2010-05-31","bps":72},{"date":"2010-06-06","bps":78},{"date":"2010-06-12","bps":75.2},{"date":"2010-06-19","bps":70.6},{"date":"2010-06-25","bps":69.6},{"date":"2010-06-30","bps":74.3},{"date":"2010-07-04","bps":61.2},{"date":"2010-07-07","bps":58.4},{"date":"2010-07-12","bps":65.9},{"date":"2010-07-16","bps":60.3},{"date":"2010-07-20","bps":70.6},{"date":"2010-07-25","bps":65},{"date":"2010-07-30","bps":69.6},{"date":"2010-08-05","bps":66.8},{"date":"2010-08-10","bps":78},{"date":"2010-08-16","bps":76.2},{"date":"2010-08-22","bps":81.8},{"date":"2010-08-28","bps":80.8},{"date":"2010-09-01","bps":82.7},{"date":"2010-09-06","bps":79.4},{"date":"2010-09-12","bps":77.1},{"date":"2010-09-16","bps":71.5},{"date":"2010-09-20","bps":68.7},{"date":"2010-09-24","bps":73.4},{"date":"2010-09-28","bps":58.4},{"date":"2010-10-05","bps":65.9},{"date":"2010-10-11","bps":66.8},{"date":"2010-10-17","bps":61.2},{"date":"2010-10-23","bps":56.5},{"date":"2010-10-27","bps":54.7},{"date":"2010-11-03","bps":59.3},{"date":"2010-11-09","bps":61.2},{"date":"2010-11-13","bps":62.7},{"date":"2010-11-19","bps":59.3},{"date":"2010-11-24","bps":67.1},{"date":"2010-11-30","bps":69.3},{"date":"2010-12-06","bps":68.2},{"date":"2010-12-12","bps":63.8},{"date":"2010-12-18","bps":66},{"date":"2010-12-23","bps":72.7},{"date":"2010-12-29","bps":73.8},{"date":"2011-01-02","bps":74.9},{"date":"2011-01-08","bps":69.3},{"date":"2011-01-14","bps":59.3},{"date":"2011-01-21","bps":57.1},{"date":"2011-01-27","bps":49.3},{"date":"2011-02-02","bps":47},{"date":"2011-02-06","bps":56},{"date":"2011-02-12","bps":51.5},{"date":"2011-02-19","bps":58.2},{"date":"2011-02-25","bps":52.6},{"date":"2011-03-03","bps":50.4},{"date":"2011-03-09","bps":56},{"date":"2011-03-14","bps":63.8},{"date":"2011-03-18","bps":56},{"date":"2011-03-24","bps":53.7},{"date":"2011-04-01","bps":54.8},{"date":"2011-04-07","bps":51.5},{"date":"2011-04-14","bps":56},{"date":"2011-04-20","bps":57.1},{"date":"2011-04-26","bps":60.4},{"date":"2011-05-02","bps":48.2},{"date":"2011-05-07","bps":57.1},{"date":"2011-05-13","bps":61.5},{"date":"2011-05-19","bps":58.2},{"date":"2011-05-23","bps":62.7},{"date":"2011-05-27","bps":69.3},{"date":"2011-05-31","bps":63.8},{"date":"2011-06-05","bps":66},{"date":"2011-06-09","bps":59.3},{"date":"2011-06-13","bps":66},{"date":"2011-06-19","bps":67.1},{"date":"2011-06-23","bps":73.8},{"date":"2011-06-30","bps":61.5},{"date":"2011-07-06","bps":60.4},{"date":"2011-07-10","bps":87.2},{"date":"2011-07-14","bps":81.6},{"date":"2011-07-18","bps":83.8},{"date":"2011-07-22","bps":72.7},{"date":"2011-07-27","bps":83.8},{"date":"2011-07-31","bps":85},{"date":"2011-08-03","bps":95},{"date":"2011-08-05","bps":113.9},{"date":"2011-08-08","bps":136.2},{"date":"2011-08-11","bps":122.9},{"date":"2011-08-14","bps":136.2},{"date":"2011-08-18","bps":126.2},{"date":"2011-08-20","bps":130.7},{"date":"2011-08-25","bps":126.2},{"date":"2011-08-29","bps":134},{"date":"2011-09-02","bps":128.4},{"date":"2011-09-05","bps":141.8},{"date":"2011-09-08","bps":146.3},{"date":"2011-09-12","bps":153},{"date":"2011-09-16","bps":137.3},{"date":"2011-09-18","bps":147.4},{"date":"2011-09-23","bps":154.6},{"date":"2011-09-27","bps":139.6},{"date":"2011-10-01","bps":148.5},{"date":"2011-10-05","bps":146.3},{"date":"2011-10-09","bps":136.2},{"date":"2011-10-13","bps":135.1},{"date":"2011-10-18","bps":142.9},{"date":"2011-10-22","bps":139.6},{"date":"2011-10-26","bps":146.3},{"date":"2011-10-30","bps":138.5},{"date":"2011-11-01","bps":153},{"date":"2011-11-05","bps":153},{"date":"2011-11-11","bps":155.2},{"date":"2011-11-18","bps":153},{"date":"2011-11-24","bps":151.8},{"date":"2011-11-28","bps":158.5},{"date":"2011-12-02","bps":157.4},{"date":"2011-12-06","bps":159.6},{"date":"2011-12-11","bps":156.3},{"date":"2011-12-17","bps":156.3},{"date":"2011-12-23","bps":156.3},{"date":"2011-12-27","bps":158.5},{"date":"2012-01-02","bps":154.6},{"date":"2012-01-09","bps":153},{"date":"2012-01-15","bps":149.6},{"date":"2012-01-21","bps":146.3},{"date":"2012-01-27","bps":142.9},{"date":"2012-02-03","bps":140.7},{"date":"2012-02-09","bps":137.3},{"date":"2012-02-13","bps":134},{"date":"2012-02-17","bps":131.8}
]
},
"encoding": {
  "x": {
    "field": "date", "type": "temporal",
    "scale": {"type": "utc", "domain": [{"year": 2007, "month": 1, "date": 1, "utc": true}, {"year": 2012, "month": 2, "date": 17, "hours": 12, "utc": true}]},
    "axis": {
      "title": null,
      "values": [
        {"year": 2007, "month": 1, "date": 1, "utc": true},
        {"year": 2007, "month": 8, "date": 1, "utc": true},
        {"year": 2008, "month": 3, "date": 1, "utc": true},
        {"year": 2008, "month": 10, "date": 1, "utc": true},
        {"year": 2009, "month": 5, "date": 1, "utc": true},
        {"year": 2009, "month": 12, "date": 1, "utc": true},
        {"year": 2010, "month": 7, "date": 1, "utc": true},
        {"year": 2011, "month": 2, "date": 1, "utc": true},
        {"year": 2011, "month": 9, "date": 1, "utc": true}
      ],
      "labelExpr": "utcFormat(datum.value, '%b-%y')",
      "grid": true, "gridDash": [7, 6], "gridColor": "#c4c4c4", "gridWidth": 1.2,
      "domainColor": "#404040", "domainWidth": 2,
      "tickColor": "#000000", "tickSize": 9, "tickWidth": 1,
      "labelFont": "Liberation Sans", "labelFontSize": 35, "labelColor": "#000000",
      "labelPadding": 24, "labelFlush": false, "labelOverlap": false
    }
  },
  "y": {
    "field": "bps", "type": "quantitative",
    "scale": {"domain": [0, 250], "nice": false},
    "axis": {
      "values": [0, 50, 100, 150, 200, 250],
      "title": "(bps)", "titleAngle": 0, "titleAlign": "right", "titleBaseline": "alphabetic",
      "titleX": -6, "titleY": 92, "titleFont": "Liberation Sans", "titleFontSize": 36, "titleFontWeight": "normal", "titleColor": "#000000",
      "grid": true,
      "gridDash": {"condition": {"test": "datum.value == 250", "value": []}, "value": [8, 5]},
      "gridColor": {"condition": {"test": "datum.value == 250", "value": "#8a8a8a"}, "value": "#c4c4c4"},
      "gridWidth": {"condition": {"test": "datum.value == 250", "value": 2.5}, "value": 1.2},
      "domainColor": "#000000", "domainWidth": 1.5,
      "tickColor": "#000000", "tickSize": 12, "tickWidth": 1,
      "labelFont": "Liberation Sans", "labelFontSize": 37, "labelColor": "#000000", "labelPadding": 21
    }
  }
},
"layer": [
  {"data": {"name": "m1"}, "mark": {"type": "line", "strokeWidth": 5.5, "strokeJoin": "round", "clip": true},
   "encoding": {"color": {"datum": "1m", "type": "nominal",
     "scale": {"domain": ["1m", "3m", "6m", "12m"], "range": ["#0000ff", "#ffcc00", "#99cc00", "#ff0000"]},
     "legend": {"title": null, "orient": "none", "legendX": 141, "legendY": 976, "direction": "horizontal", "columns": 4, "columnPadding": 243,
       "symbolType": "stroke", "symbolSize": 2500, "symbolStrokeWidth": 5.5, "labelFont": "Liberation Sans", "labelFontSize": 34, "labelColor": "#000000", "labelOffset": 9, "padding": 0, "labelLimit": 200}}}},
  {"data": {"name": "m3"}, "mark": {"type": "line", "strokeWidth": 5, "strokeJoin": "round", "clip": true},
   "encoding": {"color": {"datum": "3m", "type": "nominal"}}},
  {"data": {"name": "m6"}, "mark": {"type": "line", "strokeWidth": 4, "strokeJoin": "round", "clip": true},
   "encoding": {"color": {"datum": "6m", "type": "nominal"}}},
  {"data": {"name": "m12"}, "mark": {"type": "line", "strokeWidth": 6, "strokeJoin": "round", "clip": true},
   "encoding": {"color": {"datum": "12m", "type": "nominal"}}}
]
}
